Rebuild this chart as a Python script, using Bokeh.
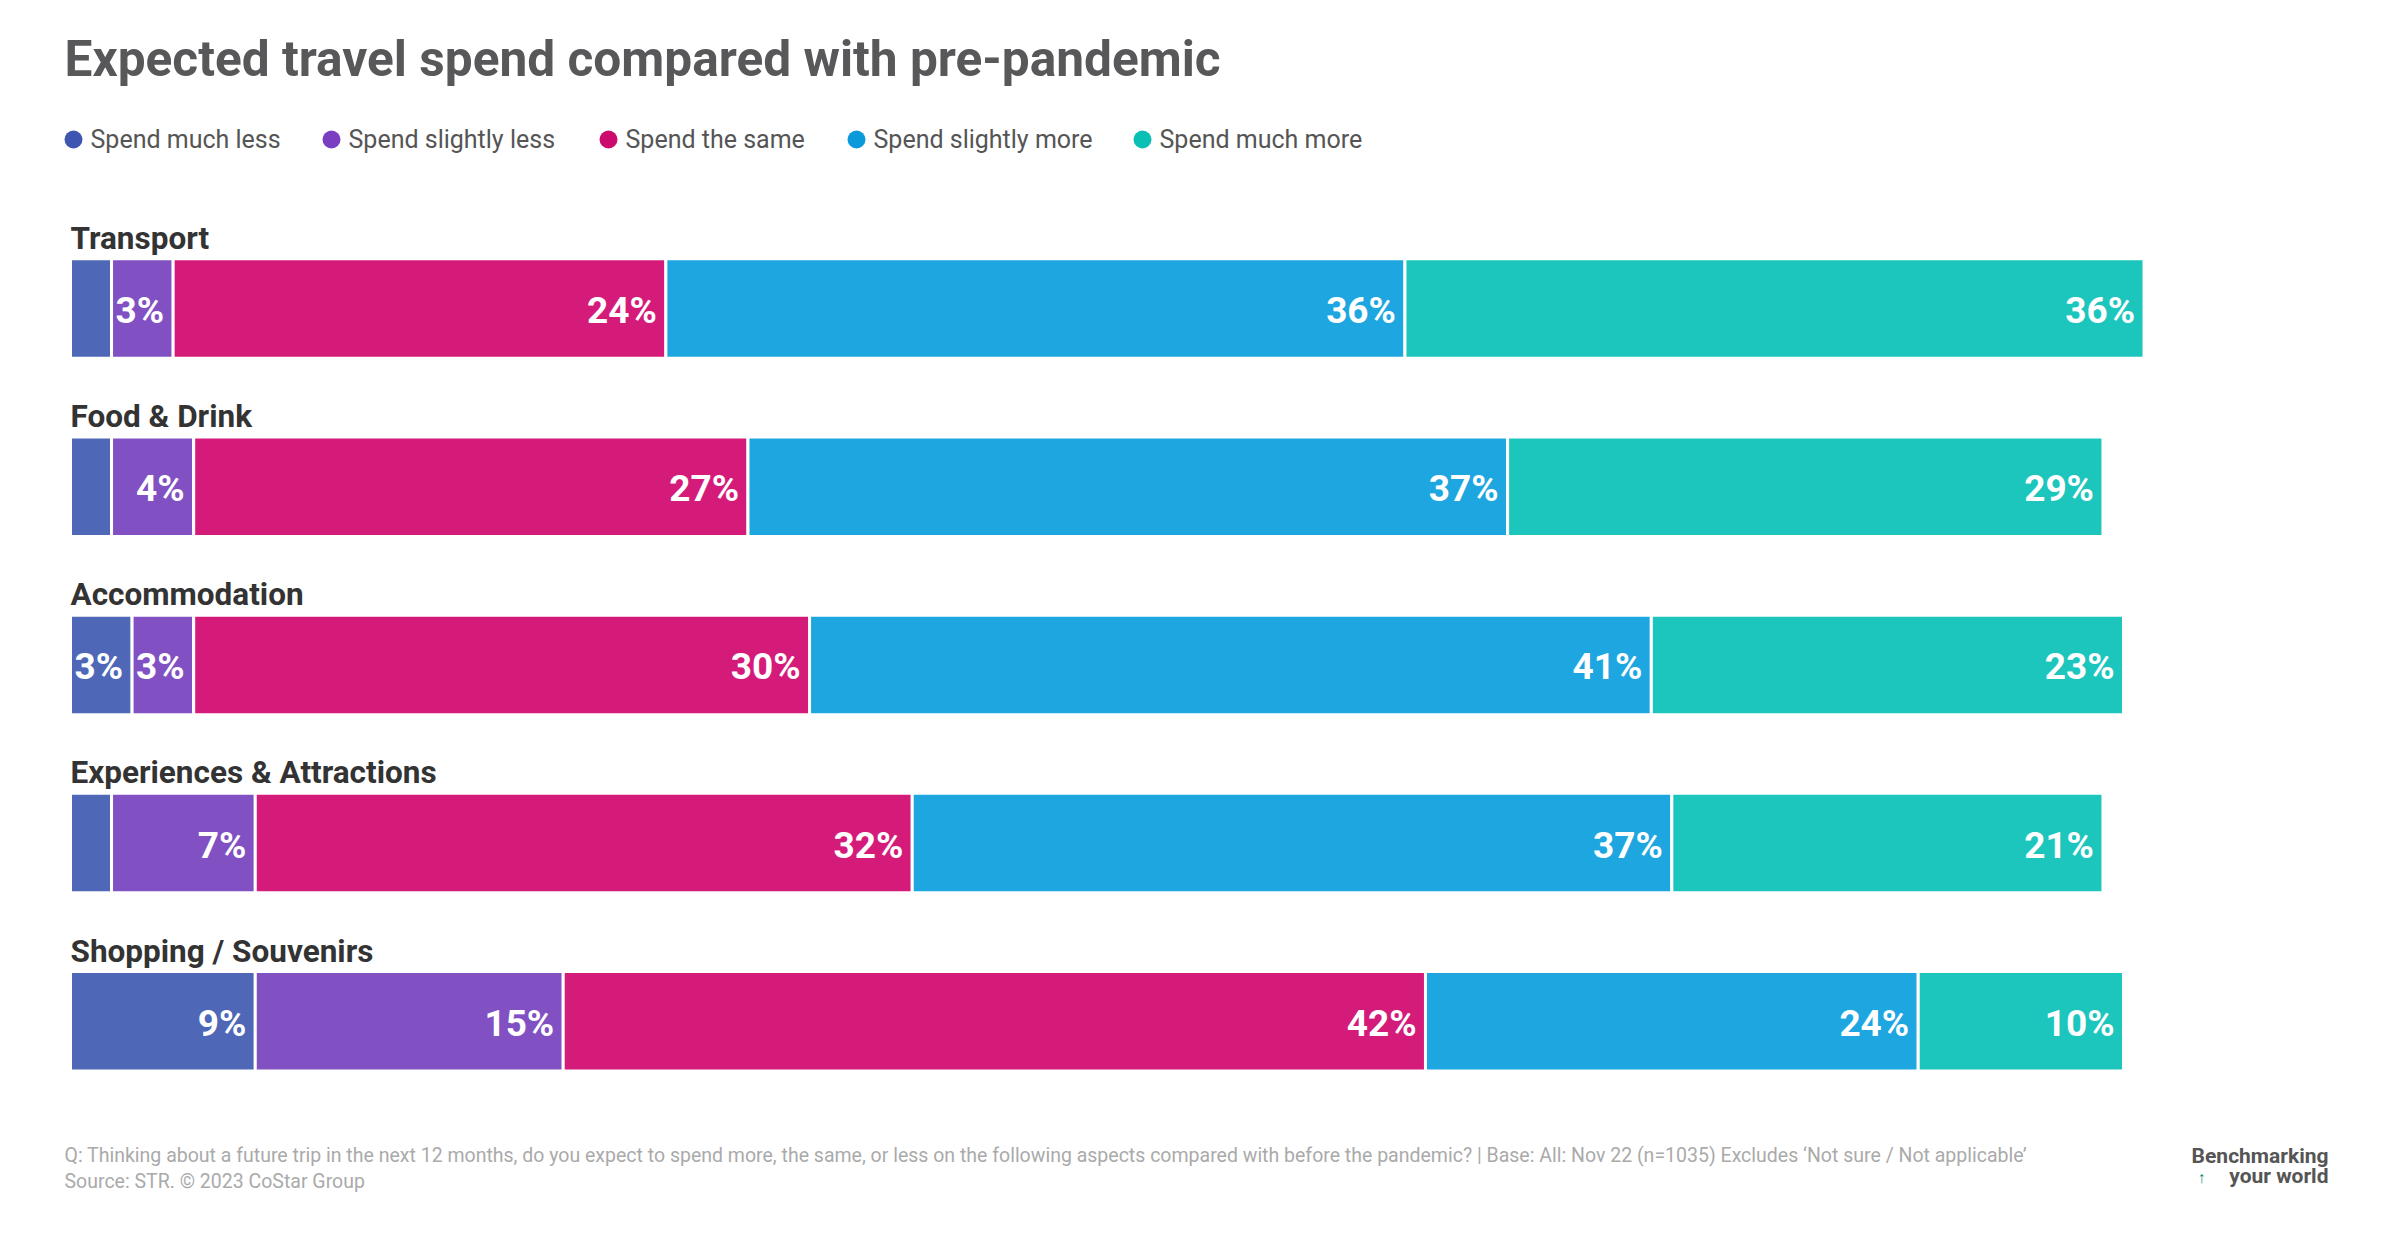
from bokeh.plotting import figure
from bokeh.models import Range1d, Label, ColumnDataSource
from bokeh.core.properties import value
from bokeh.embed import file_html
from bokeh.resources import INLINE

# ---------------- data ----------------
categories = ["Transport", "Food & Drink", "Accommodation",
              "Experiences & Attractions", "Shopping / Souvenirs"]
series_names = ["Spend much less", "Spend slightly less", "Spend the same",
                "Spend slightly more", "Spend much more"]
much_less = [2, 2, 3, 2, 9]
slightly_less = [3, 4, 3, 7, 15]
same = [24, 27, 30, 32, 42]
slightly_more = [36, 37, 41, 37, 24]
much_more = [36, 29, 23, 21, 10]

title = "Expected travel spend compared with pre-pandemic"
note1 = ("Q: Thinking about a future trip in the next 12 months, do you expect to spend more, "
         "the same, or less on the following aspects compared with before the pandemic? | "
         "Base: All: Nov 22 (n=1035) Excludes \u2018Not sure / Not applicable\u2019")
note2 = "Source: STR. \u00a9 2023 CoStar Group"

# ---------------- styling ----------------
bar_colors = ["#4F67B7", "#8150C3", "#D51B7A", "#1EA6E0", "#1DC6BD"]
dot_colors = ["#3F56B0", "#7A3FC0", "#CC0A6E", "#0A9ADB", "#0ABFB3"]
FONT = value("Roboto")
FONT_NAME = "Roboto"

W, H = 2384, 1238
PX_PER_PCT = 20.53
X0 = 70.0
ROW_PX = 178.2
ROW0 = 308.0
BAR_PX = 99.5
bar_h = BAR_PX / ROW_PX

p = figure(width=W, height=H, output_backend="svg", toolbar_location=None,
           x_range=Range1d(-X0 / PX_PER_PCT, (W - X0) / PX_PER_PCT),
           y_range=Range1d((H - ROW0) / ROW_PX, -ROW0 / ROW_PX),
           x_axis_location=None, y_axis_location=None,
           min_border=0, min_border_left=0, min_border_right=0,
           min_border_top=0, min_border_bottom=0)
p.grid.visible = False
p.outline_line_color = None
p.background_fill_color = "white"
p.border_fill_color = "white"

series = [much_less, slightly_less, same, slightly_more, much_more]
ys = list(range(len(categories)))
left = [0] * len(categories)
lab_x, lab_y, lab_t = [], [], []
for vals, col in zip(series, bar_colors):
    right = [l + v for l, v in zip(left, vals)]
    src = ColumnDataSource(dict(y=ys, left=left, right=right))
    p.hbar(y="y", left="left", right="right", height=bar_h, source=src,
           fill_color=col, line_color="white", line_width=3)
    for i, v in enumerate(vals):
        if v >= 3:
            lab_x.append(right[i]); lab_y.append(i); lab_t.append(f"{v}%")
    left = right

p.text(x=lab_x, y=lab_y, text=lab_t, text_align="right", text_baseline="middle",
       x_offset=-9, y_offset=2, text_color="white", text_font=FONT,
       text_font_style="bold", text_font_size="37px")

p.text(x=[0] * len(categories), y=[i - bar_h / 2 for i in ys], text=categories,
       text_align="left", text_baseline="bottom", y_offset=-2,
       text_color="#333333", text_font=FONT, text_font_style="bold",
       text_font_size="31.5px")

# ---------------- title ----------------
p.add_layout(Label(x=64, y=H - 58, x_units="screen", y_units="screen", text=title,
                   text_font=FONT_NAME, text_font_style="bold", text_font_size="49.6px",
                   text_color="#58585A", text_baseline="alphabetic"))

# ---------------- legend ----------------
leg_px = [73, 331, 608, 856, 1142]
leg_cy = 139
def sx(px):
    return (px - X0) / PX_PER_PCT
def sy(py):
    return (py - ROW0) / ROW_PX
p.scatter(x=[sx(v) for v in leg_px], y=[sy(leg_cy)] * 5, size=18,
          fill_color=dot_colors, line_color=None, marker="circle")
p.text(x=[sx(v + 17) for v in leg_px], y=[sy(leg_cy)] * 5, text=series_names,
       text_align="left", text_baseline="middle", text_color="#555555",
       text_font=FONT, text_font_size="25px")

# ---------------- footer ----------------
p.add_layout(Label(x=64, y=H - 1155, x_units="screen", y_units="screen", text=note1,
                   text_font=FONT_NAME, text_font_size="19.5px", text_color="#AAAAAA",
                   text_baseline="middle"))
p.add_layout(Label(x=64, y=H - 1181, x_units="screen", y_units="screen", text=note2,
                   text_font=FONT_NAME, text_font_size="19.5px", text_color="#AAAAAA",
                   text_baseline="middle"))
p.add_layout(Label(x=2328, y=H - 1155, x_units="screen", y_units="screen",
                   text="Benchmarking", text_align="right", text_baseline="middle",
                   text_font=FONT_NAME, text_font_style="bold", text_font_size="21px",
                   text_color="#555555"))
p.add_layout(Label(x=2328, y=H - 1175, x_units="screen", y_units="screen",
                   text="your world", text_align="right", text_baseline="middle",
                   text_font=FONT_NAME, text_font_style="bold", text_font_size="21px",
                   text_color="#555555"))
p.add_layout(Label(x=2201, y=H - 1177, x_units="screen", y_units="screen",
                   text="\u2191", text_align="center", text_baseline="middle",
                   text_font=FONT_NAME, text_font_style="bold", text_font_size="16px",
                   text_color="#1A8A7A"))

open("out.html", "w").write(file_html(p, INLINE))
